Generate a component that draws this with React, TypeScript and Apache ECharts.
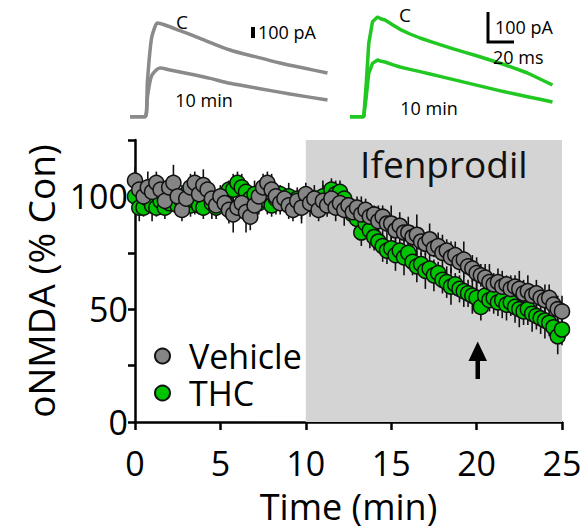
import React, { useEffect, useRef } from "react";
import * as echarts from "echarts";

// time points every 0.25 min from 0 to 25
const STEP = 0.25;

const vehicleMean = [
  107, 103, 100, 104, 102, 106, 103, 98, 104, 106,
  100, 94, 99, 104, 106, 101, 105, 103, 99, 96,
  100, 97, 94, 92, 95, 97, 93, 91, 96, 100,
  104, 106, 103, 100, 97, 99, 96, 94, 98, 95,
  101, 97, 99, 94, 98, 96, 99, 95, 97, 94,
  96, 93, 95, 92, 94, 91, 92, 89, 91, 88,
  88, 85, 87, 84, 84, 82, 83, 80, 79, 81,
  77, 78, 75, 76, 73, 74, 71, 72, 69, 68,
  66, 65, 64, 62, 61, 62, 60, 61, 59, 60,
  59, 57, 58, 56, 57, 55, 54, 55, 52, 50,
  49,
];
const vehicleSem = [
  6, 4, 5, 7, 3, 5, 4, 6, 5, 8,
  4, 5, 3, 6, 5, 4, 7, 5, 3, 6,
  5, 4, 6, 8, 5, 4, 9, 6, 5, 4,
  6, 5, 7, 4, 5, 3, 6, 5, 4, 7,
  5, 6, 4, 5, 7, 5, 4, 6, 5, 7,
  4, 6, 5, 8, 5, 6, 4, 7, 5, 6,
  8, 5, 6, 4, 7, 5, 9, 6, 5, 7,
  4, 6, 8, 5, 7, 6, 5, 8, 4, 6,
  7, 5, 6, 8, 5, 6, 7, 4, 6, 5,
  8, 6, 7, 5, 6, 4, 7, 6, 5, 6,
  7,
];
const thcMean = [
  100, 95, 95, 99, 96, 95, 98, 95, 97, 100,
  96, 98, 101, 96, 98, 96, 95, 101, 97, 95,
  99, 98, 103, 103, 106, 104, 102, 99, 101, 97,
  100, 98, 96, 99, 101, 98, 100, 97, 99, 96,
  98, 97, 99, 96, 100, 98, 103, 101, 102, 99,
  96, 92, 90, 84, 88, 85, 82, 80, 78, 76,
  77, 74, 76, 73, 75, 71, 69, 70, 67, 68,
  65, 66, 63, 62, 60, 61, 59, 58, 57, 56,
  55, 51, 56, 54, 55, 53, 54, 52, 53, 51,
  50, 49, 50, 48, 47, 46, 45, 44, 42, 38,
  41,
];
const thcSem = [
  5, 6, 4, 5, 7, 4, 6, 5, 4, 6,
  5, 7, 4, 5, 6, 4, 5, 6, 7, 4,
  5, 6, 4, 7, 5, 6, 4, 5, 6, 5,
  4, 6, 5, 7, 4, 5, 6, 4, 5, 6,
  5, 4, 6, 5, 7, 4, 5, 6, 5, 4,
  6, 5, 7, 6, 5, 8, 6, 5, 7, 6,
  5, 7, 6, 8, 5, 6, 7, 5, 8, 6,
  7, 5, 6, 7, 8, 5, 6, 7, 6, 8,
  7, 6, 8, 5, 7, 6, 8, 7, 6, 7,
  8, 6, 7, 8, 6, 7, 8, 6, 7, 8,
  7,
];

const yTicks = [0, 50, 100];
const xTicks = [0, 5, 10, 15, 20, 25];
const drugWindow = [10, 25];
const drugName = "Ifenprodil";

// example traces (ms, pA)
const greyCtrlT = [0, 12, 14, 17, 20, 22, 28, 40, 56, 80, 100, 120, 140, 158];
const greyCtrlI = [0, 0, 110, 230, 270, 281, 275, 258, 235, 200, 180, 161, 145, 131];
const grey10T = [0, 12, 14, 17, 21, 24, 32, 48, 64, 80, 104, 128, 158];
const grey10I = [0, 0, 60, 120, 140, 146, 140, 128, 115, 100, 84, 68, 50];
const greenCtrlT = [8, 19, 21, 23, 26, 30, 33, 36, 42, 48, 56, 64, 72, 80, 90, 100, 110, 120, 130, 140, 150, 160, 170];
const greenCtrlI = [0, 0, 100, 220, 285, 299, 293, 290, 276, 262, 248, 236, 226, 216, 204, 193, 182, 170, 158, 145, 131, 113, 95];
const green10T = [8, 19, 21, 23, 26, 30, 33, 36, 42, 48, 56, 64, 72, 80, 90, 100, 110, 120, 130, 140, 150, 160, 170];
const green10I = [0, 0, 60, 130, 160, 170, 166, 164, 156, 149, 142, 135, 128, 121, 112, 103, 94, 85, 76, 68, 60, 52, 44];

const FONT = "Open Sans";

export default function App() {
  const ref = useRef<HTMLDivElement>(null);
  useEffect(() => {
    if (!ref.current) return;
    const chart = echarts.init(ref.current, null, { renderer: "svg" });
    const vehData = vehicleMean.map((v, i) => [i * STEP, v, vehicleSem[i]]);
    const thcData = thcMean.map((v, i) => [i * STEP, v, thcSem[i]]);
    const errRender = (params: any, api: any) => {
      const x = api.value(0);
      const y = api.value(1);
      const e = api.value(2);
      const a = api.coord([x, y + e]);
      const b = api.coord([x, y - e]);
      return {
        type: "line",
        shape: { x1: a[0], y1: a[1], x2: b[0], y2: b[1] },
        style: { stroke: "#111", lineWidth: 1.6 },
      };
    };
    const hiddenAxis = { show: false };
    const option: any = {
      animation: false,
      textStyle: { fontFamily: FONT },
      grid: [
        { left: 135, top: 140, width: 427, height: 285 },
        { left: 130, top: 0, width: 200, height: 120 },
        { left: 340, top: 0, width: 220, height: 120 },
      ],
      xAxis: [
        {
          gridIndex: 0,
          type: "value",
          min: 0,
          max: 25,
          interval: 5,
          name: "Time (min)",
          nameLocation: "middle",
          nameGap: 66,
          nameTextStyle: { fontSize: 36, color: "#000", fontFamily: FONT },
          axisLine: { lineStyle: { color: "#000", width: 2.5 } },
          axisTick: { length: 8, lineStyle: { color: "#000", width: 2.5 } },
          axisLabel: {
            fontSize: 34,
            color: "#000",
            margin: 24,
            fontFamily: FONT,
            formatter: (v: number) => (xTicks.includes(v) ? String(v) : ""),
          },
          splitLine: { show: false },
        },
        { gridIndex: 1, type: "value", min: 0, max: 160, ...hiddenAxis },
        { gridIndex: 2, type: "value", min: 0, max: 176, ...hiddenAxis },
      ],
      yAxis: [
        {
          gridIndex: 0,
          type: "value",
          min: 0,
          max: 125,
          interval: 25,
          name: "oNMDA (% Con)",
          nameLocation: "middle",
          nameGap: 76,
          nameRotate: 90,
          nameTextStyle: { fontSize: 37, color: "#000", fontFamily: FONT },
          axisLine: { show: true, lineStyle: { color: "#000", width: 2.5 } },
          axisTick: { show: true, length: 7, lineStyle: { color: "#000", width: 2.5 } },
          axisLabel: {
            fontSize: 34,
            color: "#000",
            margin: 7,
            fontFamily: FONT,
            formatter: (v: number) => (yTicks.includes(v) ? String(v) : ""),
          },
          splitLine: { show: false },
        },
        { gridIndex: 1, type: "value", min: -10, max: 350, ...hiddenAxis },
        { gridIndex: 2, type: "value", min: -10, max: 350, ...hiddenAxis },
      ],
      legend: {
        data: ["Vehicle", "THC"],
        orient: "vertical",
        left: 149,
        top: 334,
        itemWidth: 15,
        itemHeight: 15,
        itemGap: 3,
        textStyle: {
          fontSize: 34,
          color: "#000",
          fontFamily: FONT,
          lineHeight: 34,
          padding: [0, 0, 0, 14],
        },
      },
      series: [
        {
          name: "drug",
          type: "line",
          xAxisIndex: 0,
          yAxisIndex: 0,
          data: [],
          silent: true,
          markArea: {
            silent: true,
            itemStyle: { color: "#d4d4d4" },
            label: {
              show: true,
              position: "insideTop",
              fontSize: 37,
              color: "#111",
              fontFamily: FONT,
              offset: [10, 0],
            },
            data: [[{ xAxis: drugWindow[0], yAxis: 0, name: drugName }, { xAxis: drugWindow[1], yAxis: 125 }]],
          },
        },
        {
          name: "THC err",
          type: "custom",
          xAxisIndex: 0,
          yAxisIndex: 0,
          data: thcData,
          renderItem: errRender,
          silent: true,
        },
        {
          name: "Vehicle err",
          type: "custom",
          xAxisIndex: 0,
          yAxisIndex: 0,
          data: vehData,
          renderItem: errRender,
          silent: true,
        },
        {
          name: "THC",
          type: "scatter",
          xAxisIndex: 0,
          yAxisIndex: 0,
          data: thcData.map((d) => [d[0], d[1]]),
          symbol: "circle",
          symbolSize: 15,
          itemStyle: { color: "#00c400", borderColor: "#111", borderWidth: 1.5, opacity: 1 },
        },
        {
          name: "Vehicle",
          type: "scatter",
          xAxisIndex: 0,
          yAxisIndex: 0,
          data: vehData.map((d) => [d[0], d[1]]),
          symbol: "circle",
          symbolSize: 15,
          itemStyle: { color: "#858585", borderColor: "#111", borderWidth: 1.5, opacity: 1 },
        },
        {
          name: "grey C",
          type: "line",
          xAxisIndex: 1,
          yAxisIndex: 1,
          data: greyCtrlT.map((t, i) => [t, greyCtrlI[i]]),
          showSymbol: false,
          smooth: 0.3,
          lineStyle: { color: "#8a8a8a", width: 3.5 },
          silent: true,
        },
        {
          name: "grey 10",
          type: "line",
          xAxisIndex: 1,
          yAxisIndex: 1,
          data: grey10T.map((t, i) => [t, grey10I[i]]),
          showSymbol: false,
          smooth: 0.3,
          lineStyle: { color: "#8a8a8a", width: 3.5 },
          silent: true,
        },
        {
          name: "green C",
          type: "line",
          xAxisIndex: 2,
          yAxisIndex: 2,
          data: greenCtrlT.map((t, i) => [t, greenCtrlI[i]]),
          showSymbol: false,
          lineStyle: { color: "#22c822", width: 3.5 },
          silent: true,
        },
        {
          name: "green 10",
          type: "line",
          xAxisIndex: 2,
          yAxisIndex: 2,
          data: green10T.map((t, i) => [t, green10I[i]]),
          showSymbol: false,
          lineStyle: { color: "#22c822", width: 3.5 },
          silent: true,
        },
      ],
      graphic: [
        // arrow at 20 min
        { type: "rect", z: 100, shape: { x: 475.5, y: 358, width: 4.5, height: 21 }, style: { fill: "#000" } },
        { type: "polygon", z: 100, shape: { points: [[477.7, 341.5], [468.5, 361], [487, 361]] }, style: { fill: "#000" } },
        // grey inset labels
        { type: "text", z: 100, style: { text: "C", x: 182, y: 22, fontSize: 19, fontFamily: FONT, fill: "#000", align: "center", verticalAlign: "middle" } },
        { type: "text", z: 100, style: { text: "10 min", x: 204, y: 100, fontSize: 18, fontFamily: FONT, fill: "#000", align: "center", verticalAlign: "middle" } },
        { type: "rect", z: 100, shape: { x: 251, y: 27, width: 4, height: 11 }, style: { fill: "#000" } },
        { type: "text", z: 100, style: { text: "100 pA", x: 258, y: 32, fontSize: 18, fontFamily: FONT, fill: "#000", align: "left", verticalAlign: "middle" } },
        // green inset labels
        { type: "text", z: 100, style: { text: "C", x: 405, y: 15, fontSize: 19, fontFamily: FONT, fill: "#000", align: "center", verticalAlign: "middle" } },
        { type: "text", z: 100, style: { text: "10 min", x: 429, y: 108, fontSize: 18, fontFamily: FONT, fill: "#000", align: "center", verticalAlign: "middle" } },
        { type: "polyline", z: 100, shape: { points: [[488, 12], [488, 42], [514, 42]] }, style: { stroke: "#000", lineWidth: 3, fill: null } },
        { type: "text", z: 100, style: { text: "100 pA", x: 495, y: 27, fontSize: 18, fontFamily: FONT, fill: "#000", align: "left", verticalAlign: "middle" } },
        { type: "text", z: 100, style: { text: "20 ms", x: 493, y: 57, fontSize: 18, fontFamily: FONT, fill: "#000", align: "left", verticalAlign: "middle" } },
      ],
    };
    chart.setOption(option);
    return () => chart.dispose();
  }, []);
  return (
    <div
      ref={ref}
      style={{ position: "fixed", left: 0, top: 0, width: 587, height: 529, background: "#fff" }}
    />
  );
}
